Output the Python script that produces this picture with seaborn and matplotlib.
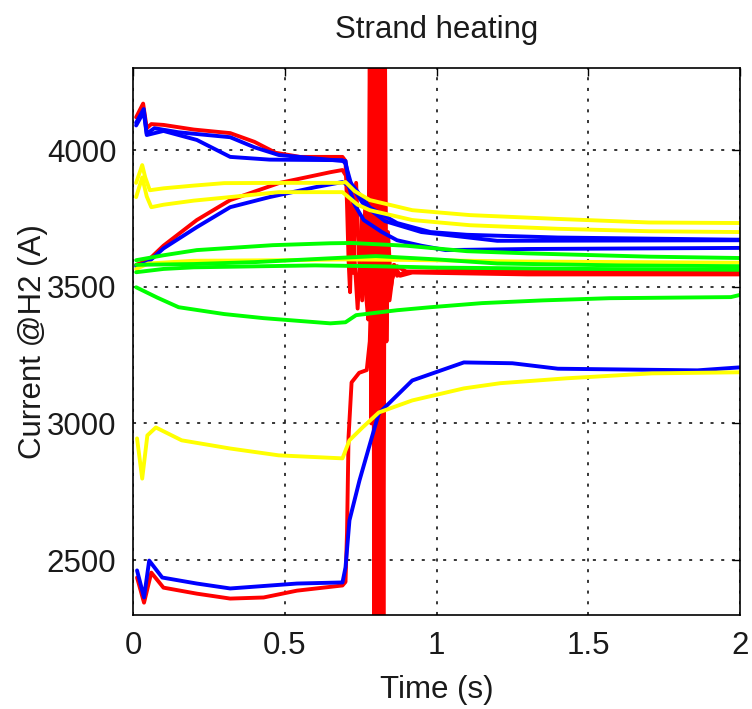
import matplotlib
matplotlib.use("Agg")
import matplotlib.pyplot as plt
import numpy as np
import pandas as pd
import seaborn as sns

# ---- traces: time knots (s) and current (A) for each strand ----
t_red_top = [0.01, 0.033, 0.045, 0.06, 0.10, 0.20, 0.32, 0.40, 0.47, 0.55, 0.69,
             0.70, 0.705, 0.71, 0.715, 0.72, 0.725, 0.73, 0.74, 0.75, 0.755, 0.765, 0.775,
             0.78, 0.785, 0.79, 0.795, 0.80, 0.805, 0.81, 0.815, 0.82, 0.825, 0.83,
             0.835, 0.84, 0.85, 0.86, 0.87, 0.90, 1.20, 2.00]
i_red_top = [4120, 4170, 4080, 4095, 4092, 4075, 4062, 4030, 3990, 3975, 3975,
             3960, 3800, 3600, 3480, 3700, 3850, 3600, 3420, 3650, 3750, 3500, 3380,
             4400, 3000, 4400, 2200, 4400, 2200, 4400, 2200, 4400, 2200, 4400,
             3300, 3700, 3500, 3580, 3540, 3555, 3550, 3548]

t_red_rise = [0.01, 0.05, 0.10, 0.21, 0.32, 0.48, 0.65, 0.69, 0.705, 0.715, 0.725,
              0.735, 0.745, 0.755, 0.765, 0.775, 0.79, 0.81, 0.83, 0.85, 0.87, 0.90,
              1.20, 2.00]
i_red_rise = [3580, 3597, 3650, 3744, 3817, 3879, 3919, 3927, 3900, 3750, 3550,
              3880, 3600, 3450, 3800, 3500, 3650, 3480, 3620, 3520, 3575, 3555,
              3560, 3558]

t_red_low = [0.013, 0.036, 0.06, 0.10, 0.21, 0.32, 0.43, 0.54, 0.69, 0.70, 0.705,
             0.71, 0.72, 0.745, 0.77, 0.78, 0.785, 0.79, 0.80, 0.81, 0.82, 0.83,
             0.845, 0.86, 0.88, 0.92, 1.30, 2.00]
i_red_low = [2436, 2344, 2454, 2399, 2377, 2359, 2363, 2388, 2407, 2420, 2600,
             2950, 3150, 3185, 3195, 3300, 3500, 4000, 2600, 3900, 2800, 3650,
             3450, 3580, 3540, 3552, 3545, 3545]

t_blue_top_a = [0.01, 0.035, 0.045, 0.07, 0.15, 0.32, 0.40, 0.48, 0.69, 0.70, 0.71,
                0.78, 0.87, 0.98, 1.10, 1.40, 2.00]
i_blue_top_a = [4100, 4150, 4060, 4080, 4065, 4047, 4010, 3982, 3960, 3960, 3890,
                3790, 3733, 3700, 3690, 3680, 3672]

t_blue_top_b = [0.01, 0.035, 0.045, 0.10, 0.21, 0.32, 0.45, 0.69, 0.70, 0.72,
                0.76, 0.83, 0.95, 1.20, 2.00]
i_blue_top_b = [4090, 4140, 4055, 4070, 4037, 3975, 3965, 3963, 3950, 3870,
                3800, 3740, 3700, 3668, 3670]

t_blue_rise = [0.01, 0.05, 0.10, 0.21, 0.32, 0.45, 0.60, 0.69, 0.71, 0.73, 0.76,
               0.82, 0.87, 0.95, 1.03, 1.30, 2.00]
i_blue_rise = [3575, 3590, 3640, 3718, 3791, 3828, 3864, 3883, 3870, 3800, 3744,
               3700, 3670, 3650, 3634, 3638, 3642]

t_blue_low = [0.013, 0.036, 0.053, 0.096, 0.21, 0.32, 0.54, 0.69, 0.70, 0.713,
              0.746, 0.80, 0.81, 0.92, 1.09, 1.25, 1.40, 1.86, 2.00]
i_blue_low = [2462, 2363, 2498, 2436, 2414, 2396, 2414, 2418, 2473, 2645,
              2791, 3000, 3037, 3157, 3223, 3220, 3200, 3194, 3205]

t_yel_a = [0.01, 0.03, 0.04, 0.055, 0.10, 0.20, 0.30, 0.50, 0.69, 0.70, 0.73,
           0.78, 0.92, 1.11, 1.40, 1.70, 2.00]
i_yel_a = [3880, 3945, 3900, 3853, 3860, 3870, 3879, 3880, 3880, 3883, 3850,
           3817, 3780, 3762, 3748, 3735, 3733]

t_yel_b = [0.01, 0.03, 0.045, 0.06, 0.10, 0.20, 0.32, 0.48, 0.69, 0.74, 0.78,
           0.92, 1.11, 1.40, 1.70, 2.00]
i_yel_b = [3828, 3900, 3830, 3791, 3800, 3815, 3828, 3846, 3846, 3800, 3780,
           3744, 3725, 3712, 3703, 3700]

t_yel_mid = [0.01, 0.05, 0.20, 0.50, 0.70, 0.90, 1.30, 2.00]
i_yel_mid = [3565, 3585, 3595, 3597, 3600, 3598, 3592, 3588]

t_yel_low = [0.013, 0.03, 0.047, 0.075, 0.16, 0.32, 0.48, 0.69, 0.713, 0.756,
             0.81, 0.92, 1.09, 1.21, 1.43, 1.71, 2.00]
i_yel_low = [2945, 2798, 2956, 2985, 2938, 2908, 2883, 2872, 2938, 2985,
             3040, 3084, 3128, 3147, 3165, 3183, 3187]

t_grn_a = [0.01, 0.10, 0.21, 0.46, 0.65, 0.72, 0.90, 1.10, 1.30, 1.70, 2.00]
i_grn_a = [3597, 3615, 3634, 3652, 3659, 3660, 3650, 3630, 3622, 3610, 3605]

t_grn_b = [0.01, 0.20, 0.40, 0.65, 0.80, 1.00, 1.20, 1.60, 2.00]
i_grn_b = [3580, 3583, 3590, 3604, 3612, 3600, 3585, 3578, 3575]

t_grn_c = [0.01, 0.10, 0.20, 0.60, 0.80, 1.00, 1.50, 2.00]
i_grn_c = [3553, 3565, 3571, 3578, 3575, 3570, 3565, 3562]

t_grn_low = [0.01, 0.08, 0.15, 0.30, 0.43, 0.65, 0.70, 0.735, 0.87, 0.98, 1.15,
             1.35, 1.57, 1.97, 2.00]
i_grn_low = [3498, 3460, 3425, 3400, 3385, 3366, 3370, 3396, 3414, 3425, 3440,
             3450, 3458, 3462, 3470]

x_ticks = [0, 0.5, 1, 1.5, 2]
x_tick_labels = ["0", "0.5", "1", "1.5", "2"]
y_ticks = [2500, 3000, 3500, 4000]
y_tick_labels = ["2500", "3000", "3500", "4000"]

# ---- assemble a long table, drawn in this order (red underneath) ----
traces = [
    ("red_top", "#ff0000", t_red_top, i_red_top),
    ("red_rise", "#ff0000", t_red_rise, i_red_rise),
    ("red_low", "#ff0000", t_red_low, i_red_low),
    ("blue_top_a", "#0000ff", t_blue_top_a, i_blue_top_a),
    ("blue_top_b", "#0000ff", t_blue_top_b, i_blue_top_b),
    ("blue_rise", "#0000ff", t_blue_rise, i_blue_rise),
    ("blue_low", "#0000ff", t_blue_low, i_blue_low),
    ("yel_a", "#ffff00", t_yel_a, i_yel_a),
    ("yel_b", "#ffff00", t_yel_b, i_yel_b),
    ("yel_mid", "#ffff00", t_yel_mid, i_yel_mid),
    ("yel_low", "#ffff00", t_yel_low, i_yel_low),
    ("grn_a", "#00ff00", t_grn_a, i_grn_a),
    ("grn_b", "#00ff00", t_grn_b, i_grn_b),
    ("grn_c", "#00ff00", t_grn_c, i_grn_c),
    ("grn_low", "#00ff00", t_grn_low, i_grn_low),
]
frames = [pd.DataFrame({"t": t, "current": i, "trace": name})
          for name, _, t, i in traces]
df = pd.concat(frames, ignore_index=True)
palette = {name: color for name, color, _, _ in traces}
order = [name for name, _, _, _ in traces]

sns.set_theme(style="white")
plt.rcParams["font.family"] = ["Liberation Sans", "DejaVu Sans"]

fig = plt.figure(figsize=(7.52, 7.09), dpi=100)
ax = fig.add_axes([0.177, 0.133, 0.807, 0.771])

sns.lineplot(data=df, x="t", y="current", hue="trace", hue_order=order,
             palette=palette, estimator=None, sort=False, linewidth=2.8,
             legend=False, ax=ax)

ax.set_xlim(0, 2)
ax.set_ylim(2300, 4300)
ax.set_xticks(x_ticks)
ax.set_xticklabels(x_tick_labels)
ax.set_yticks(y_ticks)
ax.set_yticklabels(y_tick_labels)

ax.grid(True, color="black", linestyle=(0, (2, 5)), linewidth=1.1)
ax.set_axisbelow(True)
for sp in ax.spines.values():
    sp.set_visible(True)
    sp.set_color("black")
    sp.set_linewidth(1.2)
ax.tick_params(direction="in", length=6, width=1, top=True, right=True,
               labelsize=22.5, colors="black", pad=12)
for lbl in ax.get_xticklabels() + ax.get_yticklabels():
    lbl.set_color("#1a1a1a")

ax.set_xlabel("Time (s)", fontsize=22.5, color="#1a1a1a", labelpad=10)
ax.set_ylabel("Current @H2 (A)", fontsize=22.5, color="#1a1a1a", labelpad=-1)
ax.set_title("Strand heating", fontsize=22.5, color="#1a1a1a", pad=22)

fig.savefig("out.png", dpi=100, facecolor="white")
